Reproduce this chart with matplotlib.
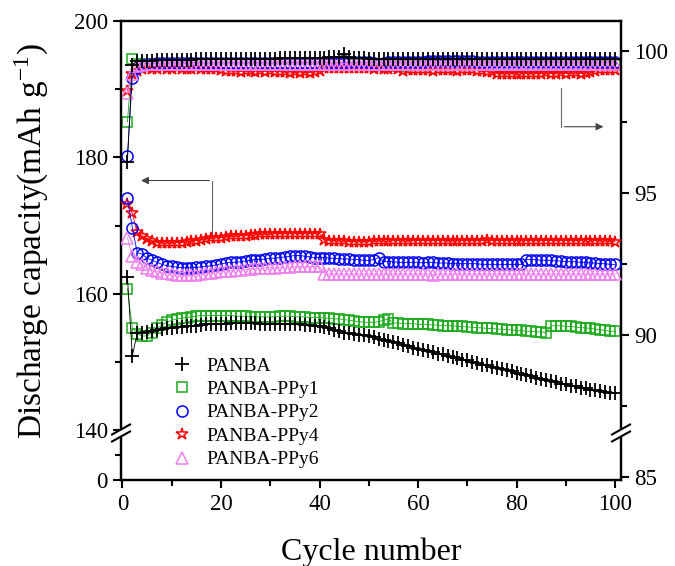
import matplotlib
matplotlib.use("Agg")
import matplotlib.pyplot as plt
from matplotlib.lines import Line2D

plt.rcParams['font.family'] = ['Liberation Serif', 'DejaVu Serif']
plt.rcParams['mathtext.fontset'] = 'stix'

cycles = list(range(1, 101))

# discharge capacity (mAh g-1), left axis
cap_panba = [
    162.5, 150.9, 154.2, 154.3, 154.4, 154.5, 154.6, 154.8, 154.9, 155.0,
    155.1, 155.1, 155.2, 155.3, 155.3, 155.4, 155.5, 155.5, 155.6, 155.6,
    155.6, 155.7, 155.7, 155.7, 155.7, 155.7, 155.7, 155.6, 155.6, 155.6,
    155.6, 155.6, 155.6, 155.5, 155.5, 155.5, 155.4, 155.4, 155.3, 155.3,
    155.1, 154.9, 154.7, 154.5, 154.3, 154.2, 154.1, 154.0, 153.9, 153.8,
    153.6, 153.4, 153.2, 153.1, 152.9, 152.7, 152.5, 152.3, 152.1, 151.9,
    151.8, 151.6, 151.4, 151.2, 151.1, 150.9, 150.7, 150.5, 150.3, 150.2,
    150.0, 149.8, 149.6, 149.5, 149.3, 149.1, 148.9, 148.8, 148.6, 148.4,
    148.2, 148.1, 147.9, 147.7, 147.5, 147.4, 147.2, 147.0, 146.8, 146.7,
    146.5, 146.4, 146.2, 146.1, 145.9, 145.8, 145.7, 145.6, 145.5, 145.4,
]
cap_ppy1 = [
    160.7, 155.0, 154.1, 153.8, 153.8, 154.3, 154.9, 155.4, 155.8, 156.1,
    156.3, 156.4, 156.5, 156.6, 156.7, 156.8, 156.8, 156.8, 156.8, 156.8,
    156.8, 156.8, 156.7, 156.7, 156.7, 156.6, 156.6, 156.6, 156.6, 156.6,
    156.6, 156.7, 156.7, 156.7, 156.6, 156.6, 156.6, 156.5, 156.5, 156.5,
    156.4, 156.4, 156.3, 156.3, 156.2, 156.1, 156.0, 155.9, 155.8, 155.8,
    155.8, 155.9, 156.1, 156.3, 155.7, 155.7, 155.6, 155.6, 155.6, 155.5,
    155.5, 155.5, 155.4, 155.4, 155.3, 155.3, 155.3, 155.2, 155.2, 155.1,
    155.1, 155.0, 155.0, 154.9, 154.9, 154.8, 154.8, 154.7, 154.7, 154.6,
    154.6, 154.5, 154.5, 154.4, 154.4, 154.3, 155.3, 155.3, 155.3, 155.2,
    155.2, 155.1, 155.0, 155.0, 154.9, 154.8, 154.7, 154.6, 154.5, 154.5,
]
cap_ppy2 = [
    174.0, 169.7, 166.0, 165.8, 165.2, 164.9, 164.6, 164.3, 164.1, 164.0,
    163.9, 163.8, 163.8, 163.8, 163.9, 163.9, 164.0, 164.1, 164.2, 164.4,
    164.5, 164.6, 164.6, 164.7, 164.8, 164.9, 165.0, 165.0, 165.1, 165.2,
    165.2, 165.3, 165.4, 165.5, 165.6, 165.6, 165.5, 165.4, 165.3, 165.3,
    165.3, 165.2, 165.2, 165.1, 165.1, 165.1, 165.0, 165.0, 164.9, 164.9,
    165.0, 165.3, 164.7, 164.7, 164.7, 164.6, 164.6, 164.6, 164.6, 164.6,
    164.5, 164.6, 164.6, 164.5, 164.5, 164.5, 164.4, 164.4, 164.4, 164.4,
    164.4, 164.4, 164.3, 164.3, 164.3, 164.3, 164.3, 164.3, 164.3, 164.3,
    164.3, 165.0, 165.0, 165.0, 164.9, 164.9, 164.9, 164.8, 164.8, 164.7,
    164.7, 164.7, 164.6, 164.6, 164.5, 164.5, 164.4, 164.4, 164.3, 164.3,
]
cap_ppy4 = [
    173.2, 171.8, 169.0, 168.5, 168.0, 167.7, 167.5, 167.4, 167.4, 167.4,
    167.5, 167.5, 167.6, 167.7, 167.8, 167.9, 168.0, 168.1, 168.2, 168.2,
    168.3, 168.4, 168.4, 168.5, 168.5, 168.6, 168.6, 168.7, 168.7, 168.7,
    168.8, 168.8, 168.8, 168.8, 168.8, 168.8, 168.8, 168.8, 168.8, 168.8,
    167.9, 167.8, 167.7, 167.7, 167.7, 167.6, 167.6, 167.6, 167.6, 167.6,
    167.7, 167.7, 167.7, 167.7, 167.8, 167.8, 167.7, 167.7, 167.8, 167.8,
    167.8, 167.8, 167.8, 167.8, 167.8, 167.7, 167.8, 167.8, 167.8, 167.8,
    167.8, 167.8, 167.8, 167.9, 167.8, 167.8, 167.8, 167.8, 167.8, 167.8,
    167.8, 167.8, 167.8, 167.8, 167.8, 167.8, 167.8, 167.8, 167.8, 167.8,
    167.8, 167.8, 167.8, 167.7, 167.7, 167.8, 167.7, 167.7, 167.7, 167.6,
]
cap_ppy6 = [
    168.2, 165.5, 164.6, 164.3, 163.8, 163.5, 163.3, 163.1, 163.0, 162.9,
    162.8, 162.7, 162.7, 162.7, 162.8, 162.9, 163.0, 163.1, 163.2, 163.3,
    163.4, 163.4, 163.5, 163.5, 163.6, 163.6, 163.7, 163.7, 163.8, 163.8,
    163.8, 163.9, 163.9, 163.9, 164.0, 164.0, 164.0, 164.0, 164.0, 164.0,
    162.9, 162.9, 162.9, 162.9, 162.9, 162.9, 162.9, 162.9, 162.9, 162.9,
    162.9, 162.9, 162.9, 162.9, 162.9, 162.9, 162.9, 162.9, 162.9, 162.9,
    162.9, 162.9, 162.8, 162.9, 162.9, 162.9, 162.9, 162.9, 162.9, 162.9,
    162.9, 162.9, 162.9, 162.9, 162.9, 162.9, 162.9, 162.9, 162.9, 162.9,
    162.9, 162.9, 162.9, 162.9, 162.9, 162.9, 162.9, 162.9, 162.9, 162.9,
    162.9, 162.9, 162.9, 162.9, 162.9, 162.9, 162.9, 162.9, 162.9, 162.9,
]

# coulombic efficiency (%), right axis
ce_panba = [
    96.1, 99.5, 99.65, 99.65, 99.66, 99.66, 99.67, 99.67, 99.68, 99.68,
    99.68, 99.69, 99.69, 99.69, 99.7, 99.7, 99.7, 99.7, 99.71, 99.71,
    99.71, 99.71, 99.72, 99.72, 99.72, 99.72, 99.72, 99.73, 99.73, 99.73,
    99.73, 99.74, 99.74, 99.74, 99.74, 99.75, 99.75, 99.75, 99.76, 99.76,
    99.76, 99.77, 99.77, 99.78, 99.88, 99.77, 99.76, 99.75, 99.74, 99.73,
    99.72, 99.72, 99.72, 99.72, 99.72, 99.72, 99.72, 99.72, 99.72, 99.72,
    99.72, 99.72, 99.72, 99.72, 99.72, 99.72, 99.72, 99.72, 99.72, 99.72,
    99.72, 99.72, 99.72, 99.72, 99.72, 99.72, 99.72, 99.72, 99.72, 99.72,
    99.72, 99.72, 99.72, 99.72, 99.72, 99.72, 99.72, 99.72, 99.72, 99.72,
    99.72, 99.72, 99.72, 99.72, 99.72, 99.72, 99.72, 99.72, 99.72, 99.72,
]
ce_ppy1 = [
    97.5, 99.7, 99.55, 99.55, 99.55, 99.55, 99.55, 99.55, 99.55, 99.55,
    99.55, 99.55, 99.55, 99.55, 99.55, 99.55, 99.55, 99.55, 99.55, 99.55,
    99.55, 99.55, 99.55, 99.55, 99.55, 99.55, 99.55, 99.55, 99.55, 99.55,
    99.55, 99.55, 99.55, 99.55, 99.55, 99.55, 99.55, 99.55, 99.55, 99.55,
    99.55, 99.55, 99.55, 99.55, 99.55, 99.55, 99.55, 99.55, 99.55, 99.55,
    99.5, 99.5, 99.5, 99.5, 99.5, 99.45, 99.45, 99.5, 99.5, 99.5,
    99.5, 99.5, 99.5, 99.5, 99.5, 99.5, 99.5, 99.5, 99.5, 99.5,
    99.5, 99.5, 99.5, 99.5, 99.5, 99.5, 99.5, 99.5, 99.5, 99.5,
    99.5, 99.5, 99.5, 99.5, 99.5, 99.5, 99.5, 99.5, 99.5, 99.5,
    99.5, 99.5, 99.5, 99.5, 99.5, 99.5, 99.5, 99.5, 99.5, 99.5,
]
ce_ppy2 = [
    96.3, 99.05, 99.4, 99.5, 99.55, 99.55, 99.56, 99.56, 99.57, 99.57,
    99.57, 99.57, 99.58, 99.58, 99.58, 99.58, 99.58, 99.58, 99.58, 99.58,
    99.58, 99.58, 99.58, 99.58, 99.58, 99.58, 99.58, 99.58, 99.58, 99.58,
    99.58, 99.58, 99.58, 99.58, 99.58, 99.58, 99.58, 99.58, 99.58, 99.58,
    99.58, 99.58, 99.58, 99.58, 99.58, 99.6, 99.6, 99.6, 99.6, 99.6,
    99.58, 99.55, 99.58, 99.6, 99.6, 99.6, 99.6, 99.6, 99.6, 99.61,
    99.62, 99.65, 99.66, 99.66, 99.66, 99.66, 99.66, 99.66, 99.65, 99.65,
    99.64, 99.62, 99.61, 99.6, 99.6, 99.6, 99.6, 99.6, 99.6, 99.6,
    99.6, 99.6, 99.6, 99.6, 99.6, 99.6, 99.6, 99.6, 99.6, 99.6,
    99.6, 99.6, 99.6, 99.6, 99.6, 99.6, 99.6, 99.6, 99.6, 99.6,
]
ce_ppy4 = [
    98.6, 99.2, 99.3, 99.36, 99.38, 99.37, 99.35, 99.38, 99.37, 99.36,
    99.38, 99.37, 99.35, 99.36, 99.38, 99.36, 99.35, 99.37, 99.36, 99.33,
    99.3, 99.28, 99.3, 99.27, 99.28, 99.29, 99.26, 99.28, 99.27, 99.29,
    99.26, 99.27, 99.25, 99.22, 99.24, 99.22, 99.25, 99.23, 99.26, 99.3,
    99.38, 99.4, 99.41, 99.4, 99.39, 99.41, 99.4, 99.39, 99.4, 99.38,
    99.37, 99.38, 99.36, 99.37, 99.38, 99.36, 99.3, 99.32, 99.33, 99.31,
    99.33, 99.32, 99.3, 99.33, 99.32, 99.34, 99.33, 99.3, 99.32, 99.31,
    99.33, 99.3, 99.28, 99.26, 99.24, 99.2, 99.19, 99.18, 99.2, 99.17,
    99.19, 99.2, 99.18, 99.2, 99.19, 99.21, 99.2, 99.19, 99.22, 99.2,
    99.21, 99.22, 99.2, 99.23, 99.24, 99.3, 99.32, 99.33, 99.32, 99.33,
]
ce_ppy6 = [
    98.5, 99.2, 99.45, 99.5, 99.52, 99.53, 99.53, 99.54, 99.54, 99.54,
    99.54, 99.54, 99.54, 99.54, 99.54, 99.54, 99.54, 99.54, 99.54, 99.54,
    99.54, 99.54, 99.54, 99.54, 99.54, 99.54, 99.54, 99.54, 99.54, 99.54,
    99.54, 99.54, 99.54, 99.54, 99.54, 99.54, 99.54, 99.54, 99.54, 99.54,
    99.55, 99.55, 99.55, 99.55, 99.55, 99.55, 99.55, 99.55, 99.55, 99.55,
    99.55, 99.55, 99.55, 99.55, 99.55, 99.55, 99.55, 99.55, 99.55, 99.55,
    99.55, 99.55, 99.55, 99.55, 99.55, 99.55, 99.55, 99.55, 99.55, 99.55,
    99.55, 99.55, 99.55, 99.55, 99.55, 99.55, 99.55, 99.55, 99.55, 99.55,
    99.55, 99.55, 99.55, 99.55, 99.55, 99.55, 99.55, 99.55, 99.55, 99.55,
    99.55, 99.55, 99.55, 99.55, 99.55, 99.55, 99.55, 99.55, 99.55, 99.55,
]

labels = ['PANBA', 'PANBA-PPy1', 'PANBA-PPy2', 'PANBA-PPy4', 'PANBA-PPy6']
colors = ['black', '#1aaa1a', '#0000ff', '#ff0000', '#ee80ee']
markers = ['+', 's', 'o', '*', '^']
sizes = [10, 7, 8, 9, 8]
caps = [cap_panba, cap_ppy1, cap_ppy2, cap_ppy4, cap_ppy6]
ces = [ce_panba, ce_ppy1, ce_ppy2, ce_ppy4, ce_ppy6]
zorders = [6, 2, 4, 3, 5]

# left axis: 0..140 squeezed below the break
left_bottom = 132.67

fig = plt.figure(figsize=(6.75, 5.66), dpi=100)
ax = fig.add_axes([121 / 675, 1 - 480 / 566, 500 / 675, 459 / 566])
ax2 = ax.twinx()

handles = []
for cap, ce, lab, col, mk, ms, zo in zip(caps, ces, labels, colors, markers, sizes, zorders):
    mew = 1.3 if mk == '+' else 1.1
    ax.plot(cycles, cap, color=col, lw=0.6, marker=mk, ms=ms, mfc='none',
            mec=col, mew=mew, zorder=zo)
    ax2.plot(cycles, ce, color=col, lw=0.6, marker=mk, ms=ms, mfc='none',
             mec=col, mew=mew, zorder=zo)
    handles.append(Line2D([], [], ls='none', marker=mk, ms=ms, mfc='none',
                          mec=col, mew=mew, label=lab))

ax.set_xlim(-0.3, 101.2)
ax.set_ylim(left_bottom, 200)
ax2.set_ylim(84.9, 101.05)

ax.set_xticks([0, 20, 40, 60, 80, 100])
ax.set_xticks([10, 30, 50, 70, 90], minor=True)
ax.set_yticks([left_bottom, 140, 160, 180, 200])
ax.set_yticklabels(['0', '140', '160', '180', '200'])
ax.set_yticks([136.3, 150, 170, 190], minor=True)
ax2.set_yticks([85, 90, 95, 100])
ax2.set_yticks([87.5, 92.5, 97.5], minor=True)

for a in (ax, ax2):
    a.tick_params(which='major', direction='out', length=6, width=1.5, labelsize=16.5)
    a.tick_params(which='minor', direction='out', length=4, width=1.5)
    for s in a.spines.values():
        s.set_linewidth(1.6)
ax.tick_params(axis='x', pad=4)

ax.set_xlabel('Cycle number', fontsize=23, labelpad=16)
ax.set_ylabel('Discharge capacity(mAh g$^{\\mathregular{-1}}$)', fontsize=24)
ax.yaxis.set_label_coords(-0.142, 0.52)

# axis break marks
yb = (480 - 433) / 459
dx, dy, gap = 9 / 500, 5 / 459, 7 / 459
for xb in (0.0, 1.0):
    ax.fill([xb - dx, xb + dx, xb + dx, xb - dx],
            [yb - dy - gap / 2, yb + dy - gap / 2, yb + dy + gap / 2, yb - dy + gap / 2],
            color='white', transform=ax.transAxes, clip_on=False, zorder=10)
    for off in (-gap / 2, gap / 2):
        ax.plot([xb - dx, xb + dx], [yb - dy + off, yb + dy + off], color='black',
                lw=1.5, transform=ax.transAxes, clip_on=False, zorder=11)

# arrows pointing to each axis
ax.plot([18.2, 18.2], [168.8, 176.6], color='#666666', lw=0.8, zorder=1)
ax.annotate('', xy=(3.2, 176.6), xytext=(18.2, 176.6),
            arrowprops=dict(arrowstyle='-|>', color='#444444', lw=0.8, mutation_scale=11))
ax2.plot([89.1, 89.1], [98.7, 97.33], color='#666666', lw=0.8)
ax2.annotate('', xy=(98.2, 97.33), xytext=(89.1, 97.33),
             arrowprops=dict(arrowstyle='-|>', color='#444444', lw=0.8, mutation_scale=11))

ax.legend(handles=handles, loc='upper left', bbox_to_anchor=(0.084, 0.285), frameon=False,
          fontsize=14, handlelength=1.2, handletextpad=0.65, labelspacing=0.3,
          borderaxespad=0)
ax.set_zorder(ax2.get_zorder() + 1)
ax.patch.set_visible(False)

fig.savefig('out.png', dpi=100)
